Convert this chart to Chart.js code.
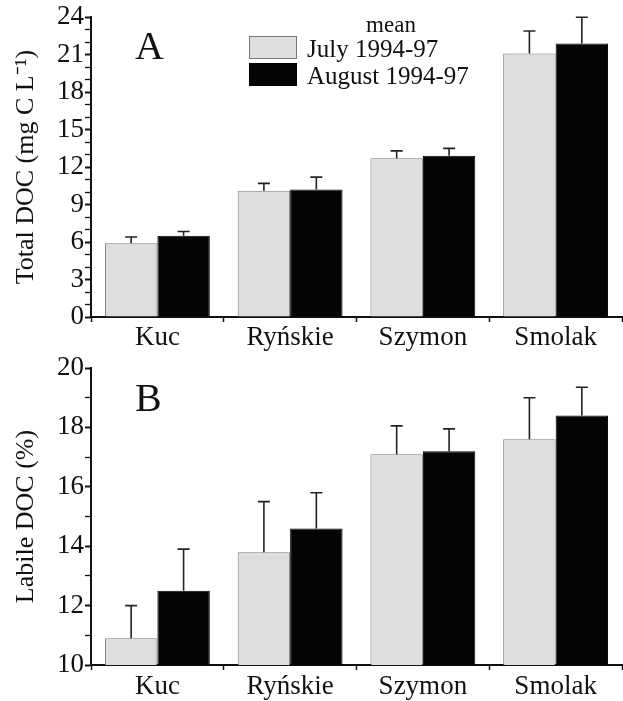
<!DOCTYPE html>
<html>
<head>
<meta charset="utf-8">
<script src="https://cdn.jsdelivr.net/npm/chart.js@4.4.1/dist/chart.umd.min.js"></script>
<style>
  body { margin: 0; background: #fff; }
  #wrap { position: relative; width: 623px; height: 701px; }
  #chartA { position: absolute; left: 0; top: 0; z-index: 2; }
  #chartB { position: absolute; left: 0; top: 350px; z-index: 1; }
</style>
</head>
<body>
<div id="wrap">
  <canvas id="chartA" width="623" height="362"></canvas>
  <canvas id="chartB" width="623" height="351"></canvas>
</div>
<script>
// lakes
const lakes = ['Kuc', 'Ryńskie', 'Szymon', 'Smolak'];
const seriesNames = ['July 1994-97', 'August 1994-97'];

// A: total DOC (mg C L-1), mean + upper error
const totalJuly = [5.9, 10.1, 12.7, 21.1];
const totalJulyErr = [0.5, 0.6, 0.6, 1.8];
const totalAug = [6.5, 10.2, 12.9, 21.9];
const totalAugErr = [0.35, 1.0, 0.6, 2.1];

// B: labile DOC (%)
const labileJuly = [10.9, 13.8, 17.1, 17.6];
const labileJulyErr = [1.1, 1.7, 0.95, 1.4];
const labileAug = [12.5, 14.6, 17.2, 18.4];
const labileAugErr = [1.4, 1.2, 0.75, 0.95];

const julyFill = '#dedede';
const augFill = '#050505';
const ink = '#111';
const serif = "'Liberation Serif', 'Times New Roman', serif";

Chart.defaults.font.family = serif;
Chart.defaults.color = ink;

// one-sided error bars (upwards)
const errorBars = {
  id: 'errorBars',
  afterDatasetsDraw(chart) {
    const ctx = chart.ctx;
    const y = chart.scales.y;
    ctx.save();
    ctx.strokeStyle = '#222';
    ctx.lineWidth = 1.6;
    chart.data.datasets.forEach((ds, i) => {
      const meta = chart.getDatasetMeta(i);
      meta.data.forEach((bar, j) => {
        const top = y.getPixelForValue(ds.data[j] + ds.errors[j]);
        ctx.beginPath();
        ctx.moveTo(bar.x, bar.y);
        ctx.lineTo(bar.x, top);
        ctx.moveTo(bar.x - 6, top);
        ctx.lineTo(bar.x + 6, top);
        ctx.stroke();
      });
    });
    ctx.restore();
  }
};

// panel letter + legend box
const panelDecor = {
  id: 'panelDecor',
  afterDraw(chart, args, opts) {
    const ctx = chart.ctx;
    ctx.save();
    ctx.fillStyle = ink;
    ctx.textBaseline = 'alphabetic';
    ctx.font = '40px ' + serif;
    ctx.fillText(opts.letter, 135, opts.letterY);
    if (opts.legend) {
      ctx.font = '23px ' + serif;
      ctx.textAlign = 'center';
      ctx.fillText('mean', 391, 32);
      ctx.textAlign = 'left';
      ctx.font = '25px ' + serif;
      const rows = [36, 63];
      chart.data.datasets.forEach((ds, i) => {
        ctx.fillStyle = ds.backgroundColor;
        ctx.fillRect(249, rows[i], 48, 23);
        ctx.strokeStyle = ds.borderColor;
        ctx.lineWidth = 1;
        ctx.strokeRect(249.5, rows[i] + 0.5, 47, 22);
        ctx.fillStyle = ink;
        ctx.fillText(ds.label, 307, rows[i] + 21);
      });
    }
    ctx.restore();
  }
};

function makeChart(id, july, julyErr, aug, augErr, yMin, yMax, major, title, padTop, xHeight, xPad, letterY, legend) {
  return new Chart(document.getElementById(id), {
    type: 'bar',
    data: {
      labels: lakes,
      datasets: [
        {
          label: seriesNames[0],
          data: july,
          errors: julyErr,
          backgroundColor: julyFill,
          borderColor: '#7a7a7a',
          borderWidth: 1
        },
        {
          label: seriesNames[1],
          data: aug,
          errors: augErr,
          backgroundColor: augFill,
          borderColor: '#000',
          borderWidth: 1
        }
      ]
    },
    options: {
      responsive: false,
      animation: false,
      devicePixelRatio: 1,
      categoryPercentage: 0.79,
      barPercentage: 1,
      layout: { padding: { top: padTop, right: 1, left: 0, bottom: 0 } },
      plugins: {
        legend: { display: false },
        tooltip: { enabled: false },
        panelDecor: { letter: legend ? 'A' : 'B', letterY: letterY, legend: legend }
      },
      scales: {
        x: {
          offset: true,
          grid: { offset: true, drawOnChartArea: false, tickLength: 5, tickColor: ink, tickWidth: 1.5 },
          border: { color: ink, width: 2 },
          ticks: { font: { size: 27 }, color: ink, padding: xPad },
          afterFit(scale) { scale.height = xHeight; }
        },
        y: {
          min: yMin,
          max: yMax,
          grid: {
            drawOnChartArea: false,
            tickLength: 6,
            tickColor: ink,
            tickWidth: c => (c.tick && c.tick.value % major === 0) ? 2 : 1.3
          },
          border: { color: ink, width: 2 },
          ticks: {
            stepSize: 1,
            autoSkip: false,
            font: { size: 27 },
            color: ink,
            padding: 1,
            callback: v => (v % major === 0 ? v : '')
          },
          title: { display: true, text: title, font: { size: 26 }, color: ink, padding: { top: 11, bottom: 0 } },
          afterFit(scale) { scale.width = 91; }
        }
      }
    },
    plugins: [errorBars, panelDecor]
  });
}

makeChart('chartA', totalJuly, totalJulyErr, totalAug, totalAugErr, 0, 24, 3,
  'Total DOC (mg C L\u207B\u00B9)', 16, 45, 0, 59, true);
makeChart('chartB', labileJuly, labileJulyErr, labileAug, labileAugErr, 10, 20, 2,
  'Labile DOC (%)', 18, 36, 1, 61, false);
</script>
</body>
</html>
